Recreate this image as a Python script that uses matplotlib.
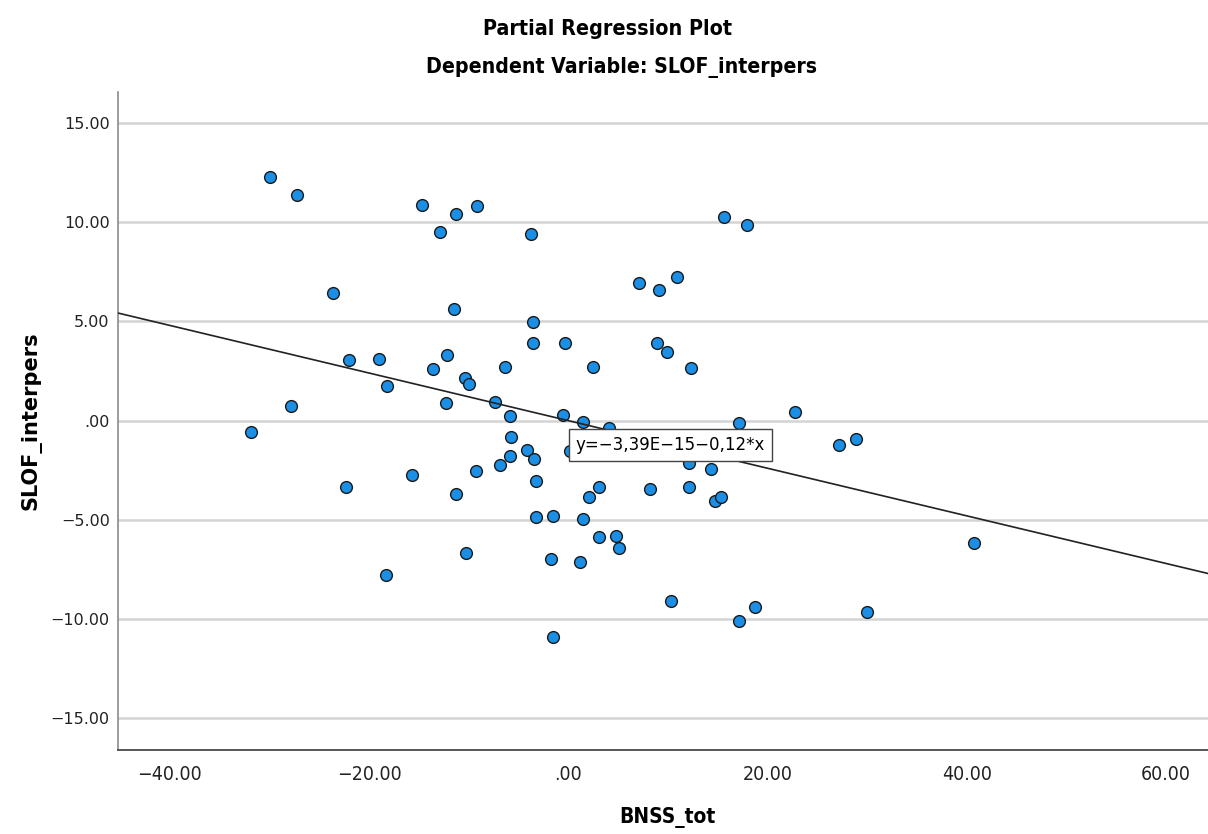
import matplotlib
matplotlib.use("Agg")
import matplotlib.pyplot as plt
from matplotlib import font_manager as fm
import numpy as np

# ---- data ----
bnss_tot = [-29.9, -27.2, -31.9, -27.8, -23.6, -22.0, -22.3, -19.0, -18.2, -18.3,
            -15.7, -14.7, -13.6, -12.9, -12.2, -12.3, -11.5, -11.3, -11.3, -10.4,
            -10.0, -10.3, -9.2, -9.3, -7.4, -6.9, -6.4, -5.9, -5.8, -5.9,
            -4.2, -3.4, -3.2, -3.5, -3.5, -3.7, -3.2, -1.5, -1.7, -1.5,
            -0.35, -0.55, 0.15, 1.46, 1.46, 1.15, 2.06, 2.46, 3.06, 3.06,
            4.07, 4.77, 5.07, 7.08, 8.18, 8.89, 9.09, 9.89, 10.29, 10.89,
            12.10, 12.10, 12.30, 14.31, 14.71, 15.31, 15.61, 17.12, 17.12, 17.92,
            18.72, 22.74, 27.15, 28.86, 29.97, 40.71]
slof_interpers = [12.28, 11.37, -0.58, 0.73, 6.43, 3.05, -3.35, 3.10, 1.74, -7.79,
                  -2.75, 10.87, 2.60, 9.51, 3.30, 0.88, 5.62, 10.41, -3.71, 2.14,
                  1.84, -6.68, 10.82, -2.55, 0.93, -2.24, 2.70, 0.23, -0.83, -1.79,
                  -1.49, -1.94, -3.05, 4.97, 3.91, 9.40, -4.87, -4.82, -6.98, -10.91,
                  3.91, 0.28, -1.54, -0.08, -4.97, -7.14, -3.86, 2.70, -3.35, -5.87,
                  -0.38, -5.82, -6.43, 6.93, -3.45, 3.91, 6.58, 3.45, -9.10, 7.24,
                  -2.14, -3.35, 2.65, -2.45, -4.06, -3.86, 10.26, -0.13, -10.11, 9.86,
                  -9.40, 0.43, -1.24, -0.93, -9.66, -6.18]
fit_intercept = -3.39e-15
fit_slope = -0.12
fit_label = "y=\u22123,39E\u221215\u22120,12*x"
x_ticks = [-40, -20, 0, 20, 40, 60]
x_tick_labels = ["\u221240.00", "\u221220.00", ".00", "20.00", "40.00", "60.00"]
y_ticks = [-15, -10, -5, 0, 5, 10, 15]
y_tick_labels = ["\u221215.00", "\u221210.00", "\u22125.00", ".00", "5.00", "10.00", "15.00"]
title_1 = "Partial Regression Plot"
title_2 = "Dependent Variable: SLOF_interpers"
x_label = "BNSS_tot"
y_label = "SLOF_interpers"

# ---- fonts ----
names = {f.name for f in fm.fontManager.ttflist}
if "Liberation Sans Narrow" in names:
    narrow = dict(family=["Liberation Sans Narrow", "DejaVu Sans"])
else:
    narrow = dict(family=["DejaVu Sans"], stretch="condensed")
plt.rcParams["font.family"] = ["DejaVu Sans"]

W, H = 1208, 834
fig = plt.figure(figsize=(W / 100, H / 100), dpi=100)
ax_left, ax_right, ax_top, ax_bottom = 118, 1216, 91.7, 750
ax = fig.add_axes([ax_left / W, 1 - ax_bottom / H,
                   (ax_right - ax_left) / W, (ax_bottom - ax_top) / H])

ax.set_xlim(-45.2, 65.0)
ax.set_ylim(-16.6, 16.58)

# grid lines
for yt in y_ticks:
    ax.axhline(yt, color="#d4d4d4", lw=1.8, zorder=1)

ax.scatter(bnss_tot, slof_interpers, s=72, facecolor="#1b8ee6",
           edgecolor="#1a1a1a", linewidth=1.0, zorder=3)

xl = np.array(ax.get_xlim())
ax.plot(xl, fit_intercept + fit_slope * xl, color="#222222", lw=1.2, zorder=4)

ax.text(0.75, -1.21, fit_label, fontsize=12, ha="left", va="center", zorder=6,
        bbox=dict(boxstyle="square,pad=0.42", facecolor="white",
                  edgecolor="#444444", linewidth=1.0))

for s in ["top", "right"]:
    ax.spines[s].set_visible(False)
ax.spines["left"].set_color("#8a8a8a")
ax.spines["left"].set_linewidth(1.2)
ax.spines["bottom"].set_color("#555555")
ax.spines["bottom"].set_linewidth(1.4)

ax.set_xticks(x_ticks)
ax.set_xticklabels(x_tick_labels, fontsize=14, color="#222222", **narrow)
ax.set_yticks(y_ticks)
ax.set_yticklabels(y_tick_labels, fontsize=11.5, color="#222222")
ax.tick_params(axis="both", length=0)
ax.tick_params(axis="x", pad=11)
ax.tick_params(axis="y", pad=6)

fig.text(608 / W, 1 - 29 / H, title_1, ha="center", va="center",
         fontsize=15.4, fontweight="bold", **narrow)
fig.text(621 / W, 1 - 67 / H, title_2, ha="center", va="center",
         fontsize=15.2, fontweight="bold", **narrow)
fig.text(667 / W, 1 - 818 / H, x_label, ha="center", va="center",
         fontsize=15, fontweight="bold", **narrow)
fig.text(31 / W, 1 - 421 / H, y_label, ha="center", va="center",
         rotation=90, fontsize=15, fontweight="bold")

fig.savefig("out.png", dpi=100, facecolor="white")
